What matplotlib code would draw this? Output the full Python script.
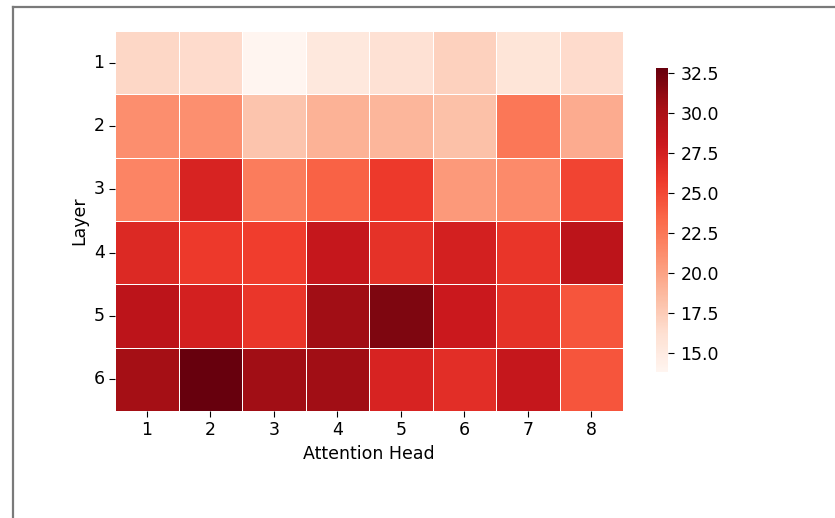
import numpy as np
import matplotlib
matplotlib.use("Agg")
import matplotlib.pyplot as plt
import seaborn as sns
from matplotlib.lines import Line2D

layers = [1, 2, 3, 4, 5, 6]
heads = [1, 2, 3, 4, 5, 6, 7, 8]
row1 = [16.8, 16.5, 13.8, 15.3, 16.1, 17.2, 15.7, 16.5]
row2 = [21.2, 21.1, 18.0, 19.1, 18.9, 18.2, 22.5, 19.5]
row3 = [21.8, 27.3, 22.2, 23.7, 25.8, 20.5, 21.4, 25.2]
row4 = [26.9, 25.8, 25.6, 28.4, 26.3, 27.5, 26.1, 29.0]
row5 = [29.0, 27.5, 26.0, 30.5, 31.9, 28.1, 26.3, 24.4]
row6 = [30.4, 32.8, 30.5, 30.5, 27.3, 26.5, 28.4, 24.4]

data = np.array([row1, row2, row3, row4, row5, row6])

W, H = 835, 518
fs = 12.5
fig = plt.figure(figsize=(W / 100, H / 100), dpi=100)
ax = fig.add_axes([115 / W, 1 - 411 / H, (623 - 115) / W, (411 - 31) / H])
cax = fig.add_axes([656 / W, 1 - 372 / H, 12 / W, (372 - 68) / H])

sns.heatmap(data, ax=ax, cbar_ax=cax, cmap="Reds", linewidths=0.5, linecolor="white",
            xticklabels=heads, yticklabels=layers)
ax.set_xlabel("Attention Head", fontsize=fs)
ax.set_ylabel("Layer", fontsize=fs)
ax.tick_params(axis="both", labelsize=fs, length=4)
ax.set_yticklabels(layers, rotation=0)
cax.tick_params(labelsize=fs, length=4.5, pad=4.5)

lc = "#7a7a7a"
fig.add_artist(Line2D([12.5 / W, 12.5 / W], [0, 1 - 6.5 / H], transform=fig.transFigure, color=lc, lw=1.6))
fig.add_artist(Line2D([12.5 / W, 1], [1 - 6.5 / H, 1 - 6.5 / H], transform=fig.transFigure, color=lc, lw=1.6))

fig.savefig("out.png", dpi=100)
